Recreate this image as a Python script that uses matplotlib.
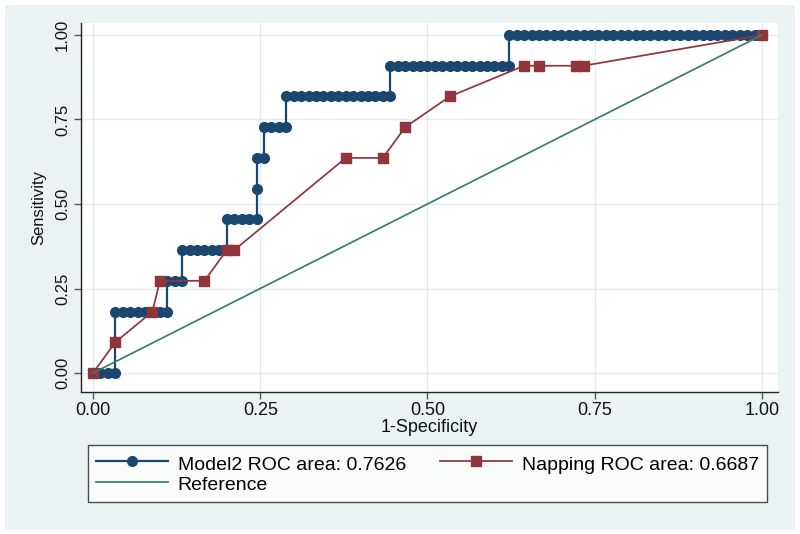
import matplotlib
matplotlib.use("Agg")
import matplotlib.pyplot as plt
from matplotlib.patches import Rectangle
from matplotlib.lines import Line2D

plt.rcParams['font.family'] = ['Liberation Sans', 'DejaVu Sans']

# ROC data: counts of false positives (of 90 negatives) and true positives (of 11 positives)
n_neg = 90
n_pos = 11
model2_fp = [0, 1, 2, 3,
             3, 4, 5, 6, 7, 8, 9, 10,
             10, 11, 12,
             12, 13, 14, 15, 16, 17, 18,
             18, 19, 20, 21, 22,
             22,
             22, 23,
             23, 24, 25, 26,
             26, 27, 28, 29, 30, 31, 32, 33, 34, 35, 36, 37, 38, 39, 40,
             40, 41, 42, 43, 44, 45, 46, 47, 48, 49, 50, 51, 52, 53, 54, 55, 56,
             56, 57, 58, 59, 60, 61, 62, 63, 64, 65, 66, 67, 68, 69, 70, 71, 72,
             73, 74, 75, 76, 77, 78, 79, 80, 81, 82, 83, 84, 85, 86, 87, 88, 89, 90]
model2_tp = [0, 0, 0, 0,
             2, 2, 2, 2, 2, 2, 2, 2,
             3, 3, 3,
             4, 4, 4, 4, 4, 4, 4,
             5, 5, 5, 5, 5,
             6,
             7, 7,
             8, 8, 8, 8,
             9, 9, 9, 9, 9, 9, 9, 9, 9, 9, 9, 9, 9, 9, 9,
             10, 10, 10, 10, 10, 10, 10, 10, 10, 10, 10, 10, 10, 10, 10, 10, 10,
             11, 11, 11, 11, 11, 11, 11, 11, 11, 11, 11, 11, 11, 11, 11, 11, 11,
             11, 11, 11, 11, 11, 11, 11, 11, 11, 11, 11, 11, 11, 11, 11, 11, 11, 11]
napping_fp = [0, 3, 8, 9, 15, 18, 19, 34, 39, 42, 48, 58, 60, 65, 66, 90]
napping_tp = [0, 1, 2, 3, 3, 4, 4, 7, 7, 8, 9, 10, 10, 10, 10, 11]
reference_x = [0.0, 1.0]
reference_y = [0.0, 1.0]

model2_label = "Model2 ROC area: 0.7626"
napping_label = "Napping ROC area: 0.6687"
reference_label = "Reference"
ticks = [0.0, 0.25, 0.5, 0.75, 1.0]
tick_labels = ["0.00", "0.25", "0.50", "0.75", "1.00"]

navy = "#1A476F"
maroon = "#90353B"
green = "#3B7D6B"
bg = "#EAF2F3"
grid = "#E3ECEF"

W, H = 800, 534
fig = plt.figure(figsize=(8, 5.34), dpi=100, facecolor="white")
fig.patches.append(Rectangle((5 / W, 1 - 529 / H), 790 / W, 524 / H,
                             transform=fig.transFigure, facecolor=bg,
                             edgecolor="none", zorder=-10))

ax = fig.add_axes([81 / W, 1 - 392 / H, (778 - 81) / W, (392 - 23) / H])
ax.set_facecolor("white")

m2x = [v / n_neg for v in model2_fp]
m2y = [v / n_pos for v in model2_tp]
npx = [v / n_neg for v in napping_fp]
npy = [v / n_pos for v in napping_tp]

ax.plot(m2x, m2y, color=navy, lw=1.6, marker="o", ms=7, mfc=navy, mec=navy, zorder=3)
ax.plot(npx, npy, color=maroon, lw=1.25, marker="s", ms=7, mfc=maroon, mec=maroon, zorder=4)
ax.plot(reference_x, reference_y, color=green, lw=1.25, zorder=5)

ax.set_xlim((81 - 93) / 669, (778 - 93) / 669)
ax.set_ylim((373 - 392) / 338, (373 - 23) / 338)
ax.set_xticks(ticks)
ax.set_xticklabels(tick_labels)
ax.set_yticks(ticks)
ax.set_yticklabels(tick_labels, rotation=90, va="center")
ax.grid(True, color=grid, lw=1.0, zorder=0)
ax.set_axisbelow(True)

for s in ["top", "right"]:
    ax.spines[s].set_visible(False)
for s in ["left", "bottom"]:
    ax.spines[s].set_color("#222222")
    ax.spines[s].set_linewidth(1.0)
ax.tick_params(axis="both", direction="out", length=5, width=1, color="#555555",
               labelcolor="#111111")
ax.tick_params(axis="x", labelsize=13, pad=2)
ax.tick_params(axis="y", labelsize=12, pad=3)

ax.set_xlabel("1-Specificity", fontsize=13, color="#111111", labelpad=0)
ax.set_ylabel("Sensitivity", fontsize=12, color="#111111", labelpad=6)

h1 = Line2D([], [], color=navy, lw=1.6, marker="o", ms=7)
h2 = Line2D([], [], color=maroon, lw=1.25, marker="s", ms=7)
h3 = Line2D([], [], color=green, lw=1.25)
leg = fig.legend([h1, h3, h2], [model2_label, reference_label, napping_label],
                 loc="upper left",
                 bbox_to_anchor=(88 / W, 1 - 503 / H, (767 - 88) / W, (503 - 445) / H),
                 mode="expand", ncol=2, fontsize=14, frameon=True, fancybox=False,
                 edgecolor="#222222", facecolor="white", handlelength=3.7,
                 handleheight=1.2,
                 borderaxespad=0, borderpad=0.42, labelspacing=0.0, columnspacing=1.5,
                 handletextpad=0.5)
leg.get_frame().set_linewidth(1.0)

fig.savefig("out.png", dpi=100, facecolor="white")
